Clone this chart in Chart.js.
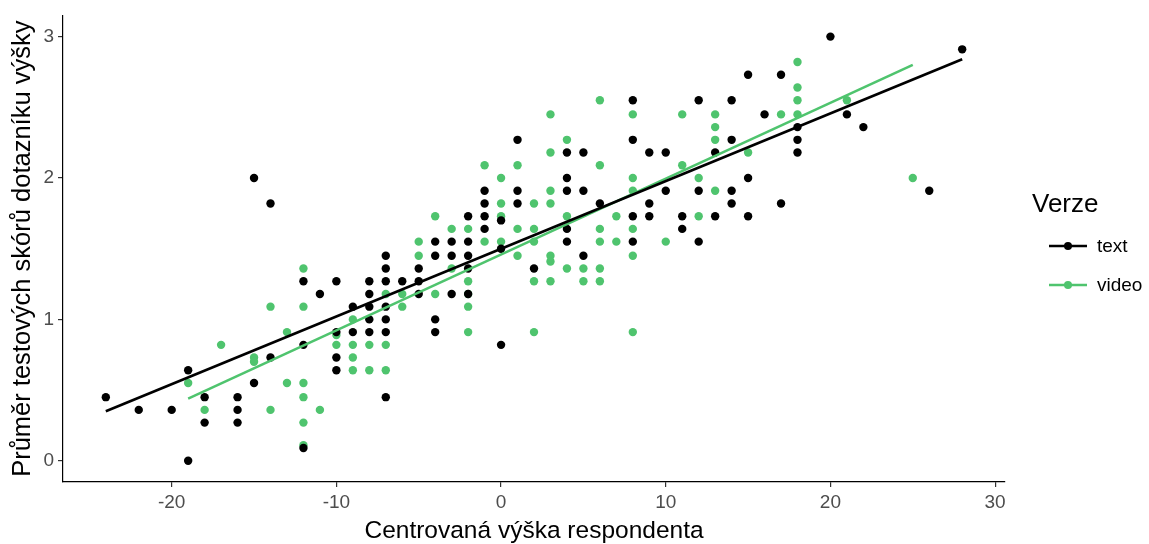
<!DOCTYPE html>
<html>
<head>
<meta charset="utf-8">
<title>Verze - výška a skóre</title>
<script src="https://cdn.jsdelivr.net/npm/chart.js@4.4.1/dist/chart.umd.min.js"></script>
<style>
    html, body { margin: 0; padding: 0; background: #ffffff; }
    #wrap { width: 1149px; height: 544px; }
</style>
</head>
<body>
<div id="wrap"><canvas id="scatter" width="1149" height="544"></canvas></div>
<script>
// Respondents who got the text version
const textX = [
    -24, -22, -20, -19, -19, -18, -18, -16, -16, -16,
    -15, -15, -14, -14, -12, -12, -12, -11,
    -10, -10, -10, -10, -9, -9,
    -8, -8, -8, -8, -8,
    -7, -7, -7, -7, -7, -7, -7,
    -6, -5, -5, -5, -4, -4, -4, -4,
    -3, -3, -3, -2, -2, -2, -2, -2,
    -1, -1, -1, -1, 0, 0, 0, 1, 1, 1, 2,
    4, 4, 4, 4, 4, 5, 5, 5, 6,
    8, 8, 8, 8, 9, 9, 9, 10, 10, 11, 11,
    12, 12, 12, 13, 13, 14, 14, 14, 14,
    15, 15, 15, 16, 17, 17, 18, 18, 18,
    20, 21, 22, 26, 28
];
const textY = [
    0.45, 0.36, 0.36, 0.00, 0.64, 0.45, 0.27, 0.45, 0.36, 0.27,
    2.00, 0.55, 1.82, 0.73, 1.27, 0.82, 0.09, 1.18,
    1.27, 0.91, 0.73, 0.64, 1.09, 0.91,
    1.27, 1.18, 1.09, 1.00, 0.91,
    1.45, 1.36, 1.27, 1.09, 1.00, 0.91, 0.45,
    1.27, 1.36, 1.27, 1.18, 1.55, 1.45, 1.00, 0.91,
    1.55, 1.45, 1.18, 1.73, 1.55, 1.45, 1.36, 1.18,
    1.91, 1.82, 1.73, 1.64, 1.70, 1.50, 0.82, 2.27, 1.91, 1.82, 1.36,
    2.18, 2.00, 1.91, 1.64, 1.55, 2.18, 1.91, 1.45, 1.82,
    2.55, 2.27, 1.73, 1.55, 2.18, 1.82, 1.73, 2.18, 1.91, 1.73, 1.64,
    2.55, 1.91, 1.55, 2.18, 1.73, 2.55, 2.27, 1.91, 1.82,
    2.73, 2.00, 1.73, 2.45, 2.73, 1.82, 2.36, 2.27, 2.18,
    3.00, 2.45, 2.36, 1.91, 2.91
];

// Respondents who got the video version
const videoX = [
    -19, -18, -17, -15, -15, -14, -14, -13, -13,
    -12, -12, -12, -12, -12, -12, -11, -10, -10,
    -9, -9, -9, -9, -8, -8, -7, -7, -7,
    -6, -6, -5, -5, -4, -4, -3, -3,
    -2, -2, -2, -2, -2, -1, -1,
    0, 0, 0, 0, 1, 1, 1,
    2, 2, 2, 2, 2,
    3, 3, 3, 3, 3, 3, 3,
    4, 4, 4, 5, 5,
    6, 6, 6, 6, 6, 6, 7, 7,
    8, 8, 8, 8, 8, 8, 10,
    11, 11, 12, 12, 13, 13, 13, 13,
    15, 17, 18, 18, 18, 18, 21, 25
];
const videoY = [
    0.55, 0.36, 0.82, 0.73, 0.70, 1.09, 0.36, 0.91, 0.55,
    1.36, 1.09, 0.55, 0.45, 0.27, 0.11, 0.36, 0.89, 0.82,
    1.00, 0.82, 0.73, 0.64, 0.82, 0.64, 1.18, 0.82, 0.64,
    1.18, 1.09, 1.55, 1.45, 1.73, 1.18, 1.64, 1.36,
    1.64, 1.27, 1.18, 1.09, 0.91, 2.09, 1.55,
    2.00, 1.82, 1.73, 1.55, 2.09, 1.64, 1.45,
    1.82, 1.64, 1.55, 1.27, 0.91,
    2.45, 2.18, 1.91, 1.82, 1.45, 1.41, 1.27,
    2.27, 1.73, 1.36, 1.36, 1.27,
    2.55, 2.09, 1.64, 1.55, 1.36, 1.27, 1.73, 1.55,
    2.45, 2.00, 1.91, 1.64, 1.45, 0.91, 1.55,
    2.45, 2.09, 2.00, 1.73, 2.45, 2.36, 2.27, 1.91,
    2.18, 2.45, 2.82, 2.64, 2.55, 2.45, 2.55, 2.00
];

// Linear fits (end points of each regression line)
const textFitX = [-24, 28];
const textFitY = [0.35, 2.84];
const videoFitX = [-19, 25];
const videoFitY = [0.44, 2.80];

const xTicks = [-20, -10, 0, 10, 20, 30];
const yTicks = [0, 1, 2, 3];

const seriesNames = ['text', 'video'];
const seriesColors = ['#000000', '#4fc46e'];

const FONT = '"Liberation Sans", Arial, sans-serif';

function toPoints(xs, ys) {
    return xs.map((x, i) => ({ x: x, y: ys[i] }));
}

// Legend drawn to the right of the panel, ggplot style
const sideLegend = {
    id: 'sideLegend',
    afterDraw(chart) {
        const ctx = chart.ctx;
        ctx.save();
        ctx.textBaseline = 'middle';
        ctx.textAlign = 'left';
        ctx.fillStyle = '#000000';
        ctx.font = '26px ' + FONT;
        ctx.fillText('Verze', 1032, 205);

        seriesNames.forEach((name, i) => {
            const y = 246 + i * 39;
            ctx.strokeStyle = seriesColors[i];
            ctx.lineWidth = 2.5;
            ctx.beginPath();
            ctx.moveTo(1049, y);
            ctx.lineTo(1087, y);
            ctx.stroke();
            ctx.fillStyle = seriesColors[i];
            ctx.beginPath();
            ctx.arc(1068, y, 4, 0, Math.PI * 2);
            ctx.fill();
            ctx.fillStyle = '#000000';
            ctx.font = '19px ' + FONT;
            ctx.fillText(name, 1097, y + 1);
        });
        ctx.restore();
    }
};

const axisCommon = {
    type: 'linear',
    border: { display: true, color: '#000000', width: 1.2 },
    grid: { display: true, drawOnChartArea: false, drawTicks: true, tickLength: 5, color: '#333333', lineWidth: 1.2 },
    ticks: { color: '#4d4d4d', font: { family: FONT, size: 19 }, padding: 4 }
};

new Chart(document.getElementById('scatter'), {
    data: {
        datasets: [
            {
                type: 'line',
                label: 'text fit',
                data: toPoints(textFitX, textFitY),
                borderColor: seriesColors[0],
                borderWidth: 2.6,
                pointRadius: 0,
                order: 0
            },
            {
                type: 'line',
                label: 'video fit',
                data: toPoints(videoFitX, videoFitY),
                borderColor: seriesColors[1],
                borderWidth: 2.6,
                pointRadius: 0,
                order: 1
            },
            {
                type: 'scatter',
                label: 'text',
                data: toPoints(textX, textY),
                backgroundColor: seriesColors[0],
                borderWidth: 0,
                pointRadius: 4.2,
                order: 2
            },
            {
                type: 'scatter',
                label: 'video',
                data: toPoints(videoX, videoY),
                backgroundColor: seriesColors[1],
                borderWidth: 0,
                pointRadius: 4.2,
                order: 3
            }
        ]
    },
    options: {
        responsive: false,
        animation: false,
        devicePixelRatio: 1,
        layout: { padding: { left: 0, right: 144, top: 10, bottom: 0 } },
        plugins: {
            legend: { display: false },
            tooltip: { enabled: false }
        },
        scales: {
            x: {
                ...axisCommon,
                min: -26.6,
                max: 30.6,
                afterBuildTicks: scale => { scale.ticks = xTicks.map(v => ({ value: v })); },
                afterFit: scale => { scale.height = 62; },
                title: {
                    display: true,
                    text: 'Centrovaná výška respondenta',
                    color: '#000000',
                    font: { family: FONT, size: 24.5, lineHeight: 1 },
                    padding: { top: 0, bottom: 1 }
                }
            },
            y: {
                ...axisCommon,
                min: -0.15,
                max: 3.15,
                afterBuildTicks: scale => { scale.ticks = yTicks.map(v => ({ value: v })); },
                afterFit: scale => { scale.width = 63; },
                title: {
                    display: true,
                    text: 'Průměr testových skórů dotazníku výšky',
                    color: '#000000',
                    font: { family: FONT, size: 25.5, lineHeight: 1 },
                    padding: { top: 10, bottom: 0 }
                }
            }
        }
    },
    plugins: [sideLegend]
});
</script>
</body>
</html>
